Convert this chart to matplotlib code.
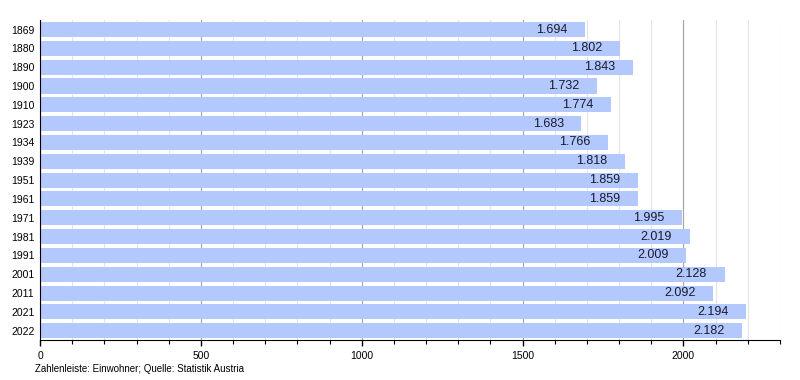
import matplotlib
matplotlib.use("Agg")
import matplotlib.pyplot as plt
from matplotlib.ticker import MultipleLocator

years = ["1869", "1880", "1890", "1900", "1910", "1923", "1934", "1939", "1951",
         "1961", "1971", "1981", "1991", "2001", "2011", "2021", "2022"]
population = [1694, 1802, 1843, 1732, 1774, 1683, 1766, 1818, 1859,
              1859, 1995, 2019, 2009, 2128, 2092, 2194, 2182]

plt.rcParams['font.family'] = ['Liberation Sans', 'DejaVu Sans']

fig = plt.figure(figsize=(8, 3.8), dpi=100)
ax = fig.add_axes([0.05, 0.105, 0.925, 0.842])

ypos = list(range(len(years)))
ax.barh(ypos, population, height=0.8, color='#b3c9fd', zorder=2)
for y, v in zip(ypos, population):
    s = f"{v:,}".replace(",", ".")
    ax.text(v - 55, y, s, ha='right', va='center', fontsize=9, color='#1a1a2e', zorder=3)

ax.set_yticks(ypos)
ax.set_yticklabels(years, fontsize=7.5)
ax.set_ylim(len(years) - 0.5, -0.5)
ax.set_xlim(0, 2300)
ax.xaxis.set_major_locator(MultipleLocator(500))
ax.xaxis.set_minor_locator(MultipleLocator(100))
ax.tick_params(axis='x', which='major', labelsize=7.5, length=4, width=1, direction='out')
ax.tick_params(axis='x', which='minor', length=3, width=0.8, direction='out')
ax.tick_params(axis='y', length=0, pad=4)
ax.grid(axis='x', which='minor', color='#e4e4e4', linewidth=0.8, zorder=0)
ax.grid(axis='x', which='major', color='#a8a8a8', linewidth=0.9, zorder=0)
for sp in ['top', 'right']:
    ax.spines[sp].set_visible(False)
ax.spines['left'].set_color('black')
ax.spines['bottom'].set_color('black')

fig.text(0.044, 0.03, "Zahlenleiste: Einwohner; Quelle: Statistik Austria", fontsize=7, ha='left', va='center')

fig.savefig("out.png", dpi=100)
